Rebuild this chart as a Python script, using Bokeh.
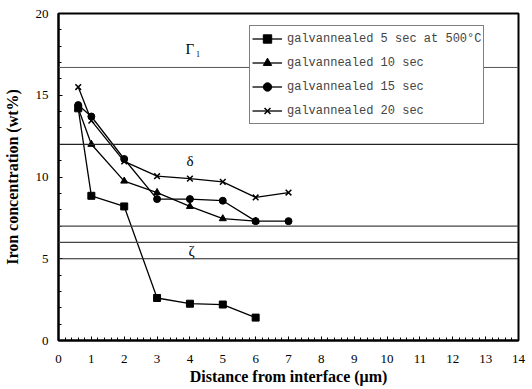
from bokeh.plotting import figure
from bokeh.models import Span, Legend, LegendItem, Label, FixedTicker
from bokeh.embed import file_html
from bokeh.resources import INLINE

x_5 = [0.6, 1, 2, 3, 4, 5, 6]
y_5 = [14.2, 8.85, 8.2, 2.6, 2.25, 2.2, 1.4]
x_10 = [0.6, 1, 2, 3, 4, 5, 6]
y_10 = [14.2, 12.0, 9.75, 9.05, 8.2, 7.45, 7.3]
x_15 = [0.6, 1, 2, 3, 4, 5, 6, 7]
y_15 = [14.4, 13.7, 11.1, 8.65, 8.65, 8.55, 7.3, 7.3]
x_20 = [0.6, 1, 2, 3, 4, 5, 6, 7]
y_20 = [15.5, 13.45, 10.95, 10.05, 9.9, 9.7, 8.75, 9.05]
phase_lines = [16.7, 12, 7, 6, 5]
labels = ["galvannealed 5 sec at 500°C", "galvannealed 10 sec",
          "galvannealed 15 sec", "galvannealed 20 sec"]
phase_names = ["Γ", "δ", "ζ"]
phase_pos = [(4.0, 17.8), (4.0, 11.0), (4.05, 5.45)]

p = figure(width=528, height=387, output_backend="svg", toolbar_location=None,
           x_range=(0, 14), y_range=(0, 20),
           min_border_left=58, min_border_right=10, min_border_top=13, min_border_bottom=45)
p.xgrid.visible = False
p.ygrid.visible = False
p.outline_line_color = "black"
p.outline_line_width = 2
p.background_fill_color = "white"

for ax in (p.xaxis[0], p.yaxis[0]):
    ax.axis_line_color = "black"
    ax.axis_line_width = 2
    ax.major_tick_in = 4
    ax.major_tick_out = 0
    ax.minor_tick_in = 3
    ax.minor_tick_out = 0
    ax.major_label_text_font = "Liberation Serif"
    ax.major_label_text_font_size = "13px"
    ax.major_label_text_color = "black"
    ax.axis_label_text_font = "Liberation Serif"
    ax.axis_label_text_font_style = "bold"
    ax.axis_label_text_font_size = "16px"
    ax.axis_label_text_color = "black"

p.xaxis.ticker = FixedTicker(ticks=list(range(0, 15)),
                             minor_ticks=[i * 0.2 for i in range(0, 71)])
p.yaxis.ticker = FixedTicker(ticks=[0, 5, 10, 15, 20], minor_ticks=list(range(0, 21)))
p.xaxis.axis_label = "Distance from interface (μm)"
p.yaxis.axis_label = "Iron concentration (wt%)"
p.xaxis.major_label_standoff = 14
p.xaxis.axis_label_standoff = 2
p.yaxis.major_label_standoff = 10
p.yaxis.axis_label_standoff = 12

for loc, w, c in zip(phase_lines, [1, 1.3, 1.3, 1.3, 1], ["#555555", "#222222", "#444444", "#444444", "#222222"]):
    p.add_layout(Span(location=loc, dimension="width", line_color=c, line_width=w))

for name, (tx, ty) in zip(phase_names, phase_pos):
    p.add_layout(Label(x=tx, y=ty, text=name, text_font="Liberation Serif",
                       text_font_size="15px", text_align="center", text_baseline="middle",
                       text_color="black"))
p.add_layout(Label(x=4.0, y=17.8, x_offset=6, y_offset=-5, text="1", text_font="Liberation Serif",
                   text_font_size="8px", text_align="left", text_baseline="middle",
                   text_color="black"))

series = [(x_5, y_5, "square"), (x_10, y_10, "triangle"), (x_15, y_15, "circle"), (x_20, y_20, "x")]
items = []
for (xs, ys, mk), lab in zip(series, labels):
    r1 = p.line(xs, ys, line_color="black", line_width=1.3)
    size = 7 if mk != "x" else 8
    r2 = p.scatter(xs, ys, marker=mk, size=size, fill_color="black", line_color="black",
                   line_width=1.5 if mk == "x" else 1)
    items.append(LegendItem(label=lab, renderers=[r1, r2]))

legend = Legend(items=items, location=(191, 216), glyph_width=30, glyph_height=21,
                spacing=3, padding=2, margin=0,
                label_text_font="Liberation Mono", label_text_font_size="12px",
                label_standoff=5, border_line_color="black", border_line_width=1.3,
                background_fill_alpha=1)
p.add_layout(legend)

open("out.html", "w").write(file_html(p, INLINE))
